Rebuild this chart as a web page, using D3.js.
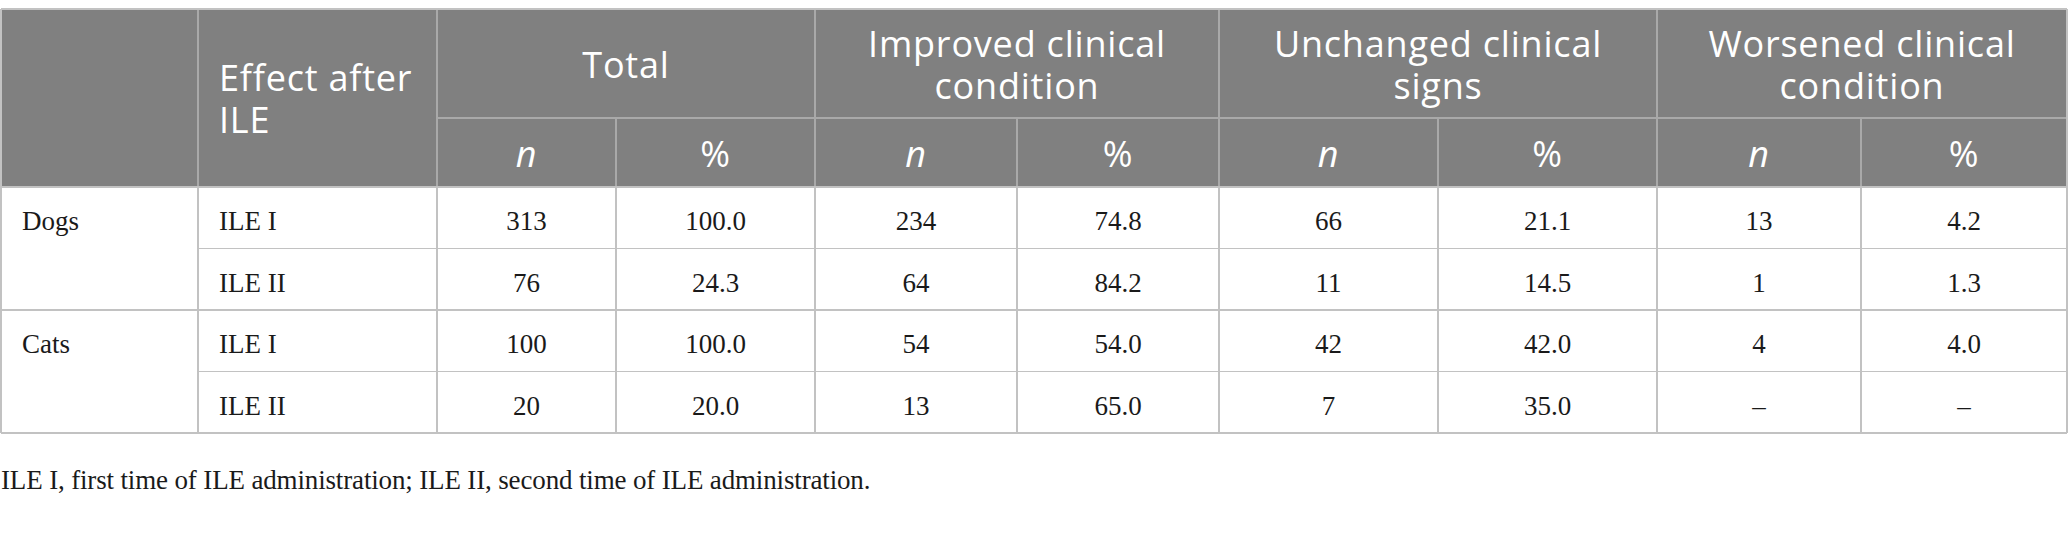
<!DOCTYPE html>
<html>
<head>
<meta charset="utf-8">
<script src="https://cdn.jsdelivr.net/npm/d3@7"></script>
<style>
  html, body { margin: 0; padding: 0; background: #ffffff; }
  svg { display: block; }
</style>
</head>
<body>
<div id="table"></div>
<script>
// data
const species = ["Dogs", "", "Cats", ""];
const effects = ["ILE I", "ILE II", "ILE I", "ILE II"];
const groupLabels = [["Total"], ["Improved clinical", "condition"], ["Unchanged clinical", "signs"], ["Worsened clinical", "condition"]];
const subLabels = ["n", "%"];
const totalN = [313, 76, 100, 20];
const totalPct = [100.0, 24.3, 100.0, 20.0];
const improvedN = [234, 64, 54, 13];
const improvedPct = [74.8, 84.2, 54.0, 65.0];
const unchangedN = [66, 11, 42, 7];
const unchangedPct = [21.1, 14.5, 42.0, 35.0];
const worsenedN = [13, 1, 4, null];
const worsenedPct = [4.2, 1.3, 4.0, null];
const footnote = "ILE I, first time of ILE administration; ILE II, second time of ILE administration.";

const width = 2068, height = 539;
const svg = d3.select("#table").append("svg").attr("width", width).attr("height", height);

// column edges and row edges as piecewise scales
const colEdges = [1, 198, 437, 616, 815, 1017, 1219, 1438, 1657, 1861, 2067];
const rowEdges = [8.5, 118, 186.5, 248.5, 310, 371.5, 432.5];
const x = d3.scaleLinear().domain(d3.range(colEdges.length)).range(colEdges);
const y = d3.scaleLinear().domain(d3.range(rowEdges.length)).range(rowEdges);

const headFont = "'Open Sans', sans-serif";
const bodyFont = "'Liberation Serif', 'Times New Roman', serif";
const fmtN = v => v == null ? "\u2013" : String(v);
const fmtP = v => v == null ? "\u2013" : v.toFixed(1);

// header background
svg.append("rect")
  .attr("x", x(0)).attr("y", y(0))
  .attr("width", x(10) - x(0)).attr("height", y(2) - y(0))
  .attr("fill", "#808080");

// header lines
const hl = svg.append("g").attr("stroke", "#a9a9a9").attr("stroke-width", 1.2).attr("shape-rendering", "crispEdges");
[1, 2, 4, 6, 8].forEach(c => hl.append("line").attr("x1", x(c)).attr("x2", x(c)).attr("y1", y(0)).attr("y2", y(2)));
[3, 5, 7, 9].forEach(c => hl.append("line").attr("x1", x(c)).attr("x2", x(c)).attr("y1", y(1)).attr("y2", y(2)));
hl.append("line").attr("x1", x(2)).attr("x2", x(10)).attr("y1", y(1)).attr("y2", y(1));

// body lines
const bl = svg.append("g").attr("stroke", "#c2c2c2").attr("stroke-width", 1.5).attr("shape-rendering", "crispEdges");
d3.range(1, 10).forEach(c => bl.append("line").attr("x1", x(c)).attr("x2", x(c)).attr("y1", y(2)).attr("y2", y(6)));
bl.append("line").attr("x1", x(1)).attr("x2", x(10)).attr("y1", y(3)).attr("y2", y(3));
bl.append("line").attr("x1", x(1)).attr("x2", x(10)).attr("y1", y(5)).attr("y2", y(5));
[2, 4, 6].forEach(r => bl.append("line").attr("x1", x(0)).attr("x2", x(10)).attr("y1", y(r)).attr("y2", y(r)).attr("stroke-width", 2));
bl.append("line").attr("x1", x(0)).attr("x2", x(10)).attr("y1", y(0)).attr("y2", y(0)).attr("stroke-width", 2);
bl.append("line").attr("x1", x(0)).attr("x2", x(0)).attr("y1", y(0)).attr("y2", y(6));
bl.append("line").attr("x1", x(10)).attr("x2", x(10)).attr("y1", y(0)).attr("y2", y(6));

// header text, one text element per line
const ht = svg.append("g").attr("fill", "#ffffff").attr("font-family", headFont)
  .attr("font-size", 36).attr("letter-spacing", 0.8);

["Effect after", "ILE"].forEach((s, i) =>
  ht.append("text").attr("x", x(1) + 21).attr("y", 91 + i * 42).text(s));

groupLabels.forEach((lines, g) => {
  const cx = (x(2 + g * 2) + x(4 + g * 2)) / 2;
  const top = lines.length === 1 ? 78 : 57;
  lines.forEach((s, i) =>
    ht.append("text").attr("text-anchor", "middle").attr("x", cx).attr("y", top + i * 42).text(s));
});

d3.range(8).forEach(i => {
  const c = 2 + i;
  ht.append("text").attr("text-anchor", "middle")
    .attr("x", (x(c) + x(c + 1)) / 2).attr("y", 167)
    .attr("font-style", i % 2 === 0 ? "italic" : "normal")
    .text(subLabels[i % 2]);
});

// body text
const bt = svg.append("g").attr("fill", "#1a1a1a").attr("font-family", bodyFont).attr("font-size", 27);
const valueCols = [totalN, totalPct, improvedN, improvedPct, unchangedN, unchangedPct, worsenedN, worsenedPct];

species.forEach((s, r) => {
  const base = y(2 + r) + 43;
  if (s) bt.append("text").attr("x", x(0) + 21).attr("y", base).text(s);
  bt.append("text").attr("x", x(1) + 21).attr("y", base).text(effects[r]);
  valueCols.forEach((col, i) => {
    const c = 2 + i;
    bt.append("text").attr("text-anchor", "middle")
      .attr("x", (x(c) + x(c + 1)) / 2).attr("y", base)
      .text(i % 2 === 0 ? fmtN(col[r]) : fmtP(col[r]));
  });
});

// footnote
svg.append("text").attr("x", 1).attr("y", 489)
  .attr("font-family", bodyFont).attr("font-size", 27).attr("letter-spacing", -0.15)
  .attr("fill", "#1a1a1a").text(footnote);
</script>
</body>
</html>
